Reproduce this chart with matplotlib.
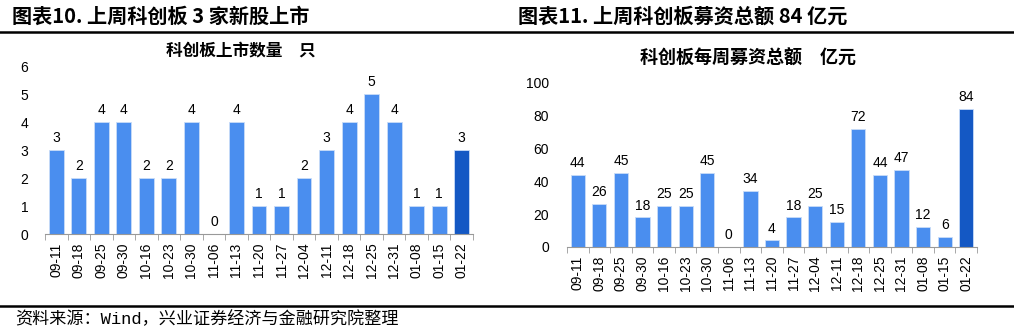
import matplotlib.pyplot as plt
from matplotlib.lines import Line2D

plt.rcParams['font.family'] = ['Liberation Sans', 'Noto Sans CJK SC', 'DejaVu Sans']

weeks = ['09-11', '09-18', '09-25', '09-30', '10-16', '10-23', '10-30', '11-06', '11-13', '11-20',
         '11-27', '12-04', '12-11', '12-18', '12-25', '12-31', '01-08', '01-15', '01-22']
listings = [3, 2, 4, 4, 2, 2, 4, 0, 4, 1, 1, 2, 3, 4, 5, 4, 1, 1, 3]
raised = [44, 26, 45, 18, 25, 25, 45, 0, 34, 4, 18, 25, 15, 72, 44, 47, 12, 6, 84]

light = '#4a8eef'
dark = '#1458c4'
cjk = ['Noto Sans CJK SC', 'DejaVu Sans']

fig = plt.figure(figsize=(10.14, 3.36), dpi=100)
W, H = 1014, 336


def make_axes(x0, x1, ytop, ybot):
    return fig.add_axes([x0 / W, 1 - ybot / H, (x1 - x0) / W, (ybot - ytop) / H])


def draw(ax, vals, ymax, step, pad, ypad):
    x = range(len(vals))
    cols = [light] * (len(vals) - 1) + [dark]
    ax.bar(x, vals, width=0.66, color=cols, edgecolor='#c8dcf8', linewidth=0.6)
    for i, v in enumerate(vals):
        ax.text(i, v + pad, str(v), ha='center', va='bottom', fontsize=10)
    ax.set_xlim(-0.5, len(vals) - 0.5)
    ax.set_ylim(0, ymax)
    ax.set_yticks(range(0, ymax + 1, step))
    ax.set_xticks(x)
    ax.set_xticklabels(weeks, rotation=90, fontsize=10)
    ax.set_xticks([i - 0.5 for i in range(len(vals) + 1)], minor=True)
    ax.tick_params(axis='x', which='major', length=0, pad=6)
    ax.tick_params(axis='x', which='minor', length=4, color='#999999')
    ax.tick_params(axis='y', length=0, labelsize=10, pad=ypad)
    for s in ['top', 'right', 'left']:
        ax.spines[s].set_visible(False)
    ax.spines['bottom'].set_color('#999999')


ax1 = make_axes(45, 473, 66, 234)
draw(ax1, listings, 6, 1, 0.18, 12)
ax2 = make_axes(567, 977, 83, 247)
draw(ax2, raised, 100, 20, 3, 13)

fig.text(241 / W, 1 - 50 / H, '科创板上市数量\u3000只', ha='center', va='center',
         fontsize=12, fontweight='bold', family=cjk)
fig.text(748 / W, 1 - 58 / H, '科创板每周募资总额\u3000亿元', ha='center', va='center',
         fontsize=13, fontweight='bold', family=cjk)

fig.text(12 / W, 1 - 16 / H, '图表10. 上周科创板 3 家新股上市', ha='left', va='center',
         fontsize=14.5, fontweight='bold', family=cjk)
fig.text(518 / W, 1 - 16 / H, '图表11. 上周科创板募资总额 84 亿元', ha='left', va='center',
         fontsize=14.5, fontweight='bold', family=cjk)
fig.text(15 / W, 1 - 319 / H, '资料来源：Wind，兴业证券经济与金融研究院整理', ha='left', va='center',
         fontsize=12.3, family=['Liberation Mono', 'Noto Sans CJK SC'])

for y in [32, 306]:
    fig.add_artist(Line2D([0, 1], [1 - y / H, 1 - y / H], transform=fig.transFigure,
                          color='black', linewidth=1.8))

fig.savefig('out.png', dpi=100)
